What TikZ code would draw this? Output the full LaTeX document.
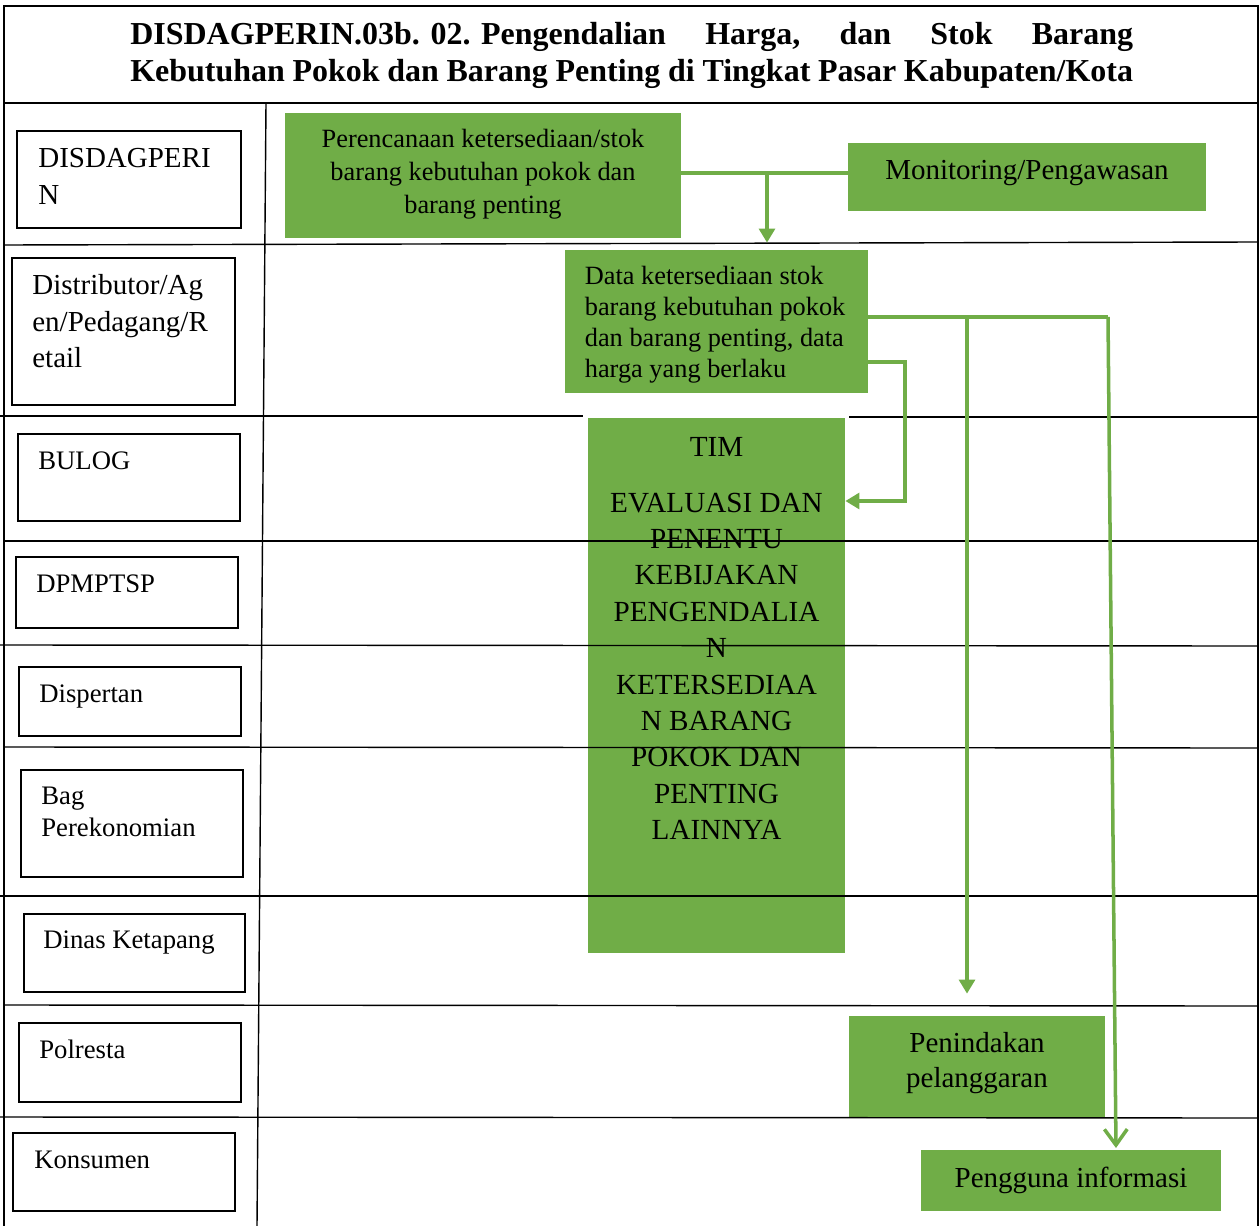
\documentclass[tikz,border=0pt]{standalone}
\usepackage{fontspec}
\setmainfont{Liberation Serif}
\usetikzlibrary{arrows.meta,fit}
\definecolor{grn}{HTML}{70AD47}
\newcommand\labfont{\fontsize{16.5}{21}\selectfont}
\newcommand\lsfont{\fontsize{15.2}{18.7}\selectfont}
\newcommand\smfont{\fontsize{15}{18.7}\selectfont}
\newcommand\datfont{\fontsize{15}{17.6}\selectfont}
\newcommand\timfont{\fontsize{16.6}{20.7}\selectfont}
\newcommand\ttlfont{\fontsize{18.2}{21}\selectfont\bfseries}
\begin{document}
\begin{tikzpicture}[x=0.02cm,y=-0.02cm,
  lane/.style={draw=black, line width=0.8pt, inner sep=0pt},
  gbox/.style={fill=grn, inner sep=0pt},
  txt/.style={inner sep=0pt, text=black},
  grid/.style={draw=black, line width=0.8pt},
  conn/.style={draw=grn, line width=2pt},
  ftip/.style={-{Triangle[width=9pt,length=8pt]}},
  vtip/.style={-{Straight Barb[width=13pt,length=9pt,line width=2pt]}}
]
\useasboundingbox (0,0) rectangle (1260,1226);

% green boxes
\node[gbox, fit={(285,113) (681,238)}] (per) {};
\node[gbox, fit={(848,143) (1206,211)}] (mon) {};
\node[gbox, fit={(565,250) (868,393)}] (dat) {};
\node[gbox, fit={(588,418) (845,953)}] (tim) {};
\node[gbox, fit={(849,1016) (1105,1117)}] (pen) {};
\node[gbox, fit={(921,1150) (1221,1211)}] (pgg) {};

% grid
\draw[grid] (4,1226) -- (4,6) -- (1258,6) -- (1258,1226);
\draw[grid] (4,103) -- (1258,103);
\draw[grid] (266,103) -- (257,1226);
\draw[grid] (4,245) -- (1258,242);
\draw[grid] (0,416) -- (583,416);
\draw[grid] (849,417) -- (1258,417);
\draw[grid] (4,541) -- (1258,541);
\draw[grid] (0,645) -- (1258,646);
\draw[grid] (4,747) -- (1258,748);
\draw[grid] (0,896) -- (1258,896);
\draw[grid] (4,1005) -- (1258,1006);
\draw[grid] (0,1117) -- (1258,1118);

% title
\node[txt, anchor=base west] (title) at (130,45) {\ttlfont\parbox[t]{20.06cm}{DISDAGPERIN.03b. 02. Pengendalian\hfill Harga,\hfill dan\hfill Stok\hfill Barang\\Kebutuhan Pokok dan Barang Penting di Tingkat Pasar Kabupaten/Kota}};

% lane boxes
\node[lane, fit={(17,131) (241,228)}] (b1) {};
\node[lane, fit={(12,258) (235,405)}] (b2) {};
\node[lane, fit={(18,434) (240,521)}] (b3) {};
\node[lane, fit={(16,557) (238,628)}] (b4) {};
\node[lane, fit={(19,667) (241,736)}] (b5) {};
\node[lane, fit={(21,770) (243,877)}] (b6) {};
\node[lane, fit={(24,914) (245,992)}] (b7) {};
\node[lane, fit={(19,1023) (241,1102)}] (b8) {};
\node[lane, fit={(13,1133) (235,1211)}] (b9) {};

\node[txt, anchor=base west] (l1) at (38,168) {\labfont\begin{tabular}[t]{@{}l@{}}DISDAGPERI\\N\end{tabular}};
\node[txt, anchor=base west] (l2) at (32,295) {\fontsize{16.5}{20.7}\selectfont\begin{tabular}[t]{@{}l@{}}Distributor/Ag\\en/Pedagang/R\\etail\end{tabular}};
\node[txt, anchor=base west] (l3) at (38,469) {\lsfont BULOG};
\node[txt, anchor=base west] (l4) at (36,592) {\lsfont DPMPTSP};
\node[txt, anchor=base west] (l5) at (39,702) {\lsfont Dispertan};
\node[txt, anchor=base west] (l6) at (41,804) {\lsfont\begin{tabular}[t]{@{}l@{}}Bag\\Perekonomian\end{tabular}};
\node[txt, anchor=base west] (l7) at (43,948) {\lsfont Dinas Ketapang};
\node[txt, anchor=base west] (l8) at (39,1058) {\lsfont Polresta};
\node[txt, anchor=base west] (l9) at (34,1168) {\lsfont Konsumen};

% green box texts
\node[txt, anchor=base] (tper) at (483,148) {\smfont\begin{tabular}[t]{@{}c@{}}Perencanaan ketersediaan/stok\\barang kebutuhan pokok dan\\barang penting\end{tabular}};
\node[txt, anchor=base] (tmon) at (1027,180) {\labfont Monitoring/Pengawasan};
\node[txt, anchor=base west] (tdat) at (584.5,285) {\datfont\begin{tabular}[t]{@{}l@{}}Data ketersediaan stok\\barang kebutuhan pokok\\dan barang penting, data\\harga yang berlaku\end{tabular}};
\node[txt, anchor=base] (ttim) at (716.5,456) {\timfont\begin{tabular}[t]{@{}c@{}}TIM\\[11.3pt]EVALUASI DAN\\PENENTU\\KEBIJAKAN\\PENGENDALIA\\N\\KETERSEDIAA\\N BARANG\\POKOK DAN\\PENTING\\LAINNYA\end{tabular}};
\node[txt, anchor=base] (tpen) at (977,1052) {\fontsize{16.5}{20.4}\selectfont\begin{tabular}[t]{@{}c@{}}Penindakan\\pelanggaran\end{tabular}};
\node[txt, anchor=base] (tpgg) at (1071,1187) {\labfont Pengguna informasi};

% connectors
\coordinate (j1) at (767,173);
\draw[conn] (per.east |- j1) -- (mon.west |- j1);
\draw[conn, ftip, shorten >=0.14cm] (j1) -- (j1 |- dat.north);

\coordinate (k1) at (967,317);
\coordinate (k2) at (1108,317);
\coordinate (k3) at (1116,1150);
\draw[conn] (dat.east |- k1) -- (k2);
\draw[conn, vtip, shorten >=0.04cm] (k2) -- (k3);
\draw[conn, ftip, shorten >=0.44cm] (k1) -- (k1 |- pen.north);

\coordinate (m1) at (905,362);
\coordinate (m2) at (905,501);
\draw[conn, ftip] (dat.east |- m1) -- (m1) -- (m2) -- (tim.east |- m2);
\end{tikzpicture}
\end{document}
